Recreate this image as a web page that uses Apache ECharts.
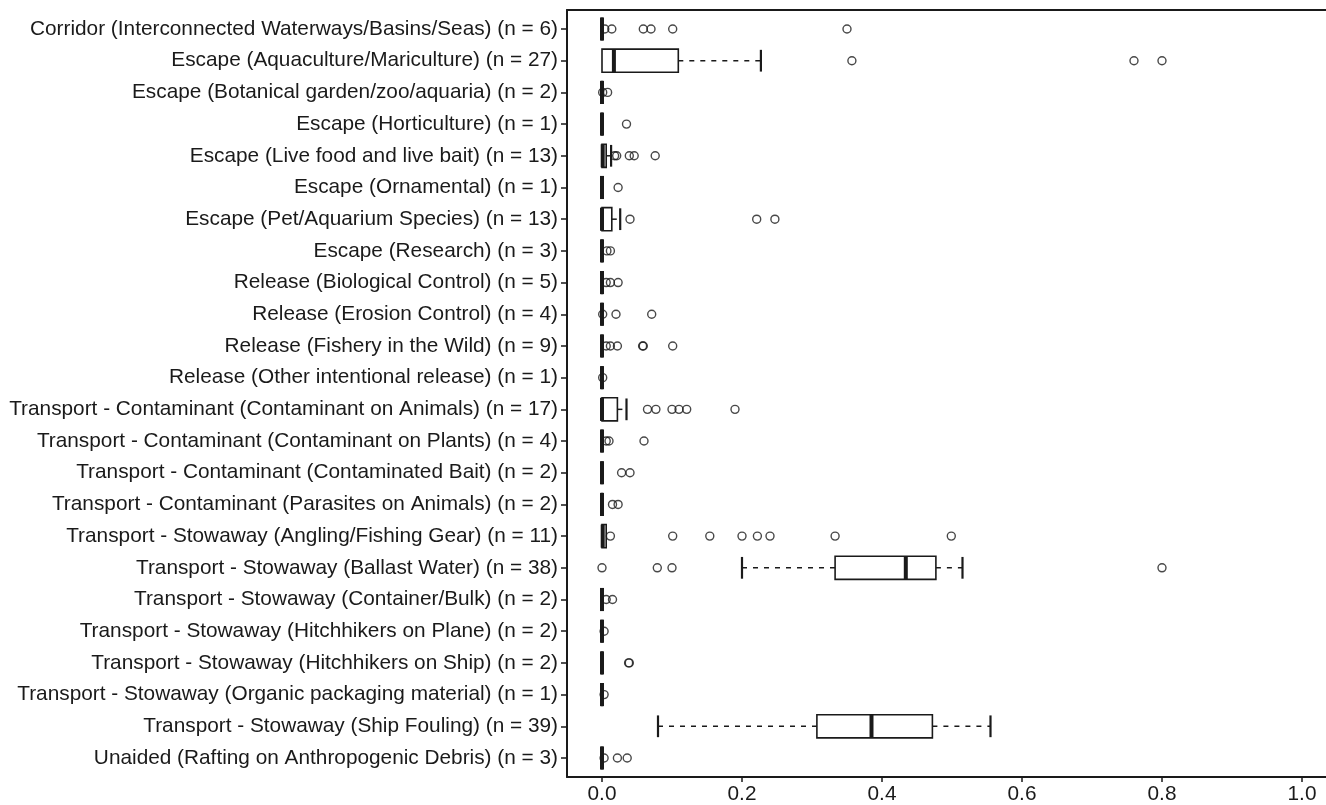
<!DOCTYPE html>
<html>
<head>
<meta charset="utf-8">
<script src="https://cdn.jsdelivr.net/npm/echarts@6/dist/echarts.min.js"></script>
<style>
  html, body { margin: 0; padding: 0; background: #fff; }
  #main { width: 1326px; height: 805px; }
</style>
</head>
<body>
<div id="main"></div>
<script>
var categories = [
  "Corridor (Interconnected Waterways/Basins/Seas) (n = 6)",
  "Escape (Aquaculture/Mariculture) (n = 27)",
  "Escape (Botanical garden/zoo/aquaria) (n = 2)",
  "Escape (Horticulture) (n = 1)",
  "Escape (Live food and live bait) (n = 13)",
  "Escape (Ornamental) (n = 1)",
  "Escape (Pet/Aquarium Species) (n = 13)",
  "Escape (Research) (n = 3)",
  "Release (Biological Control) (n = 5)",
  "Release (Erosion Control) (n = 4)",
  "Release (Fishery in the Wild) (n = 9)",
  "Release (Other intentional release) (n = 1)",
  "Transport - Contaminant (Contaminant on Animals) (n = 17)",
  "Transport - Contaminant (Contaminant on Plants) (n = 4)",
  "Transport - Contaminant (Contaminated Bait) (n = 2)",
  "Transport - Contaminant (Parasites on Animals) (n = 2)",
  "Transport - Stowaway (Angling/Fishing Gear) (n = 11)",
  "Transport - Stowaway (Ballast Water) (n = 38)",
  "Transport - Stowaway (Container/Bulk) (n = 2)",
  "Transport - Stowaway (Hitchhikers on Plane) (n = 2)",
  "Transport - Stowaway (Hitchhikers on Ship) (n = 2)",
  "Transport - Stowaway (Organic packaging material) (n = 1)",
  "Transport - Stowaway (Ship Fouling) (n = 39)",
  "Unaided (Rafting on Anthropogenic Debris) (n = 3)"
];

// box statistics per category
var whiskerLow  = [0, 0,     0, 0, 0,     0, 0,     0, 0, 0, 0, 0, 0,     0, 0, 0, 0,     0.200, 0, 0, 0, 0, 0.080, 0];
var q1          = [0, 0,     0, 0, 0,     0, 0,     0, 0, 0, 0, 0, 0,     0, 0, 0, 0,     0.333, 0, 0, 0, 0, 0.307, 0];
var median      = [0, 0.017, 0, 0, 0.001, 0, 0,     0, 0, 0, 0, 0, 0,     0, 0, 0, 0.001, 0.434, 0, 0, 0, 0, 0.385, 0];
var q3          = [0, 0.109, 0, 0, 0.006, 0, 0.014, 0, 0, 0, 0, 0, 0.022, 0, 0, 0, 0.006, 0.477, 0, 0, 0, 0, 0.472, 0];
var whiskerHigh = [0, 0.227, 0, 0, 0.013, 0, 0.026, 0, 0, 0, 0, 0, 0.035, 0, 0, 0, 0.006, 0.515, 0, 0, 0, 0, 0.555, 0];

var outliers = [
  [0.004, 0.014, 0.059, 0.070, 0.101, 0.350],
  [0.357, 0.760, 0.800],
  [0.001, 0.008],
  [0.035],
  [0.018, 0.021, 0.039, 0.046, 0.076],
  [0.023],
  [0.040, 0.221, 0.247],
  [0.007, 0.012],
  [0.006, 0.012, 0.023],
  [0.001, 0.020, 0.071],
  [0.006, 0.012, 0.022, 0.058, 0.059, 0.101],
  [0.001],
  [0.065, 0.077, 0.100, 0.110, 0.121, 0.190],
  [0.006, 0.010, 0.060],
  [0.028, 0.040],
  [0.015, 0.023],
  [0.012, 0.101, 0.154, 0.200, 0.222, 0.240, 0.333, 0.499],
  [0.000, 0.079, 0.100, 0.800],
  [0.006, 0.015],
  [0.003],
  [0.038, 0.039],
  [0.003],
  [],
  [0.003, 0.022, 0.036]
];

var xTicks = [0, 0.2, 0.4, 0.6, 0.8, 1.0];
var rowTicks = categories.map(function (c, i) { return i; });

var boxData = categories.map(function (c, i) {
  return [i, whiskerLow[i], q1[i], median[i], q3[i], whiskerHigh[i]];
});
var outlierData = [];
outliers.forEach(function (arr, i) {
  arr.forEach(function (v) { outlierData.push([v, i]); });
});

var ink = "#1a1a1a";

function renderBox(params, api) {
  var row = api.value(0);
  var lo = api.coord([api.value(1), row]);
  var b1 = api.coord([api.value(2), row]);
  var md = api.coord([api.value(3), row]);
  var b3 = api.coord([api.value(4), row]);
  var hi = api.coord([api.value(5), row]);
  var h = Math.abs(api.size([0, 1])[1]) * 0.73;
  var y = md[1];
  var kids = [];
  var dash = { stroke: ink, lineWidth: 1.5, lineDash: [5, 6] };
  var solid = { stroke: ink, lineWidth: 2.2 };
  if (hi[0] - b3[0] > 1) {
    kids.push({ type: "line", shape: { x1: b3[0], y1: y, x2: hi[0], y2: y }, style: dash });
    kids.push({ type: "line", shape: { x1: hi[0], y1: y - h * 0.47, x2: hi[0], y2: y + h * 0.47 }, style: solid });
  }
  if (b1[0] - lo[0] > 1) {
    kids.push({ type: "line", shape: { x1: lo[0], y1: y, x2: b1[0], y2: y }, style: dash });
    kids.push({ type: "line", shape: { x1: lo[0], y1: y - h * 0.47, x2: lo[0], y2: y + h * 0.47 }, style: solid });
  }
  kids.push({
    type: "rect",
    shape: { x: b1[0], y: y - h / 2, width: b3[0] - b1[0], height: h },
    style: { fill: "#fff", stroke: ink, lineWidth: 1.6 }
  });
  kids.push({
    type: "line",
    shape: { x1: md[0], y1: y - h / 2, x2: md[0], y2: y + h / 2 },
    style: { stroke: ink, lineWidth: 4 }
  });
  return { type: "group", children: kids };
}

var myChart = echarts.init(document.getElementById("main"));
myChart.setOption({
  animation: false,
  backgroundColor: "#fff",
  textStyle: { fontFamily: "Liberation Sans, Arial, sans-serif" },
  grid: {
    left: 567,
    top: 10,
    right: 0,
    bottom: 28
  },
  xAxis: [
    {
      type: "value",
      min: -0.05,
      max: 1.0343,
      splitLine: { show: false },
      axisLine: { onZero: false, lineStyle: { color: ink, width: 2 } },
      axisTick: { show: true, length: 5, customValues: xTicks, lineStyle: { color: ink, width: 1.5 } },
      axisLabel: {
        customValues: xTicks,
        color: ink,
        fontSize: 20.8,
        margin: 7,
        formatter: function (v) { return v.toFixed(1); }
      }
    },
    {
      // top frame line only
      type: "value",
      position: "top",
      min: -0.05,
      max: 1.0343,
      splitLine: { show: false },
      axisLine: { onZero: false, lineStyle: { color: ink, width: 2 } },
      axisTick: { show: false },
      axisLabel: { show: false }
    }
  ],
  yAxis: {
    type: "value",
    inverse: true,
    min: -0.6,
    max: 23.6,
    splitLine: { show: false },
    axisLine: { show: true, onZero: false, lineStyle: { color: ink, width: 2 } },
    axisTick: { show: true, length: 6, customValues: rowTicks, lineStyle: { color: ink, width: 1.5 } },
    axisLabel: {
      customValues: rowTicks,
      color: ink,
      fontSize: 20.8,
      margin: 9,
      formatter: function (v) { return categories[Math.round(v)]; }
    }
  },
  series: [
    {
      type: "custom",
      renderItem: renderBox,
      data: boxData,
      encode: { x: [1, 2, 3, 4, 5], y: 0 },
      z: 2
    },
    {
      type: "scatter",
      data: outlierData,
      symbol: "circle",
      symbolSize: 8,
      itemStyle: { color: "transparent", borderColor: ink, borderWidth: 1.4 },
      z: 3
    }
  ]
});

window.addEventListener("resize", function () {
  myChart.resize();
});
</script>
</body>
</html>
